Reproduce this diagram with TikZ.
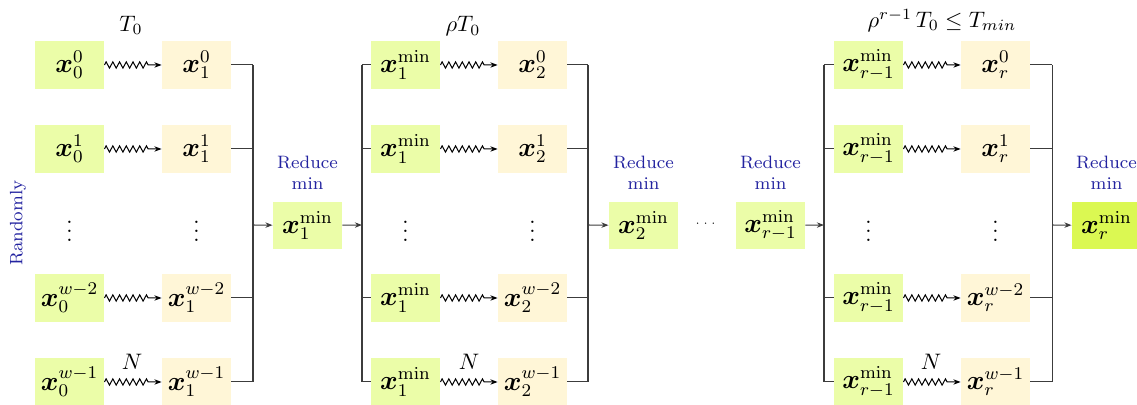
\documentclass[tikz,border=0pt]{standalone}
\usepackage{amsmath}
\usetikzlibrary{arrows.meta,decorations.pathmorphing,positioning}

\definecolor{seedgreen}{RGB}{235,253,168}
\definecolor{stepcream}{RGB}{255,246,215}
\definecolor{bestgreen}{RGB}{219,248,82}
\definecolor{reduceblue}{RGB}{35,35,160}
\definecolor{wire}{RGB}{60,60,60}

\tikzset{
  cell/.style={minimum width=30.8pt, minimum height=21.4pt, inner sep=0pt, font=\large},
  seed/.style={cell, fill=seedgreen},
  walk/.style={cell, fill=stepcream},
  best/.style={cell, fill=bestgreen},
  tip/.style={-{Stealth[length=3.2pt,width=2.4pt]}},
  anneal/.style={tip, line width=0.45pt, decorate,
    decoration={zigzag, amplitude=1.4pt, segment length=3pt, post length=4.5pt}},
  wirestyle/.style={draw=wire, line width=0.45pt},
  feed/.style={wirestyle, tip},
  bluetext/.style={font=\footnotesize, text=reduceblue, align=center, inner sep=0pt},
}

\newcommand{\bx}{\boldsymbol{x}}

\begin{document}
\begin{tikzpicture}[x=0.4464pt, y=-0.4464pt]
\useasboundingbox (0,0) rectangle (1137,405);

% ---------- stage 1 ----------
\node[seed] (a0) at (69.5,65)  {$\bx_0^0$};
\node[seed] (a1) at (69.5,149) {$\bx_0^1$};
\node       (ad) at (69.5,225) {$\vdots$};
\node[seed] (a2) at (69.5,298) {$\bx_0^{w-2}$};
\node[seed] (a3) at (69.5,382) {$\bx_0^{w-1}$};

\node[walk] (b0) at (196.5,65)  {$\bx_1^0$};
\node[walk] (b1) at (196.5,149) {$\bx_1^1$};
\node       (bd) at (196.5,225) {$\vdots$};
\node[walk] (b2) at (196.5,298) {$\bx_1^{w-2}$};
\node[walk] (b3) at (196.5,382) {$\bx_1^{w-1}$};

\foreach \i in {0,...,3} \draw[anneal] (a\i) -- (b\i);

\node[anchor=base] (t1) at (131,31.5) {$T_0$};
\node[anchor=base] (n1) at (132,370) {$N$};
\node[bluetext, rotate=90] (rand) at (18,223) {Randomly};

\coordinate (j1) at (253,225);
\foreach \i in {0,...,3} \draw[wirestyle] (b\i.east) -- (b\i.east -| j1);
\draw[wirestyle] (b0.east -| j1) -- (b3.east -| j1);

\node[seed] (m1) at (307.5,225.5) {$\bx_1^{\min}$};
\node[bluetext, above=4.8pt of m1] (l1) {Reduce\\min};
\draw[feed] (j1) -- (m1);

% ---------- stage 2 ----------
\coordinate (k1) at (362,225);
\draw[feed] (m1) -- (k1);

\node[seed] (c0) at (405.5,65)  {$\bx_1^{\min}$};
\node[seed] (c1) at (405.5,149) {$\bx_1^{\min}$};
\node       (cd) at (405.5,225) {$\vdots$};
\node[seed] (c2) at (405.5,298) {$\bx_1^{\min}$};
\node[seed] (c3) at (405.5,382) {$\bx_1^{\min}$};

\draw[wirestyle] (k1 |- c0.west) -- (k1 |- c3.west);
\foreach \i in {0,...,3} \draw[wirestyle] (k1 |- c\i.west) -- (c\i.west);

\node[walk] (d0) at (532.5,65)  {$\bx_2^0$};
\node[walk] (d1) at (532.5,149) {$\bx_2^1$};
\node       (dd) at (532.5,225) {$\vdots$};
\node[walk] (d2) at (532.5,298) {$\bx_2^{w-2}$};
\node[walk] (d3) at (532.5,382) {$\bx_2^{w-1}$};

\foreach \i in {0,...,3} \draw[anneal] (c\i) -- (d\i);

\node[anchor=base] (t2) at (463,32) {$\rho T_0$};
\node[anchor=base] (n2) at (469,370) {$N$};

\coordinate (j2) at (588,225);
\foreach \i in {0,...,3} \draw[wirestyle] (d\i.east) -- (d\i.east -| j2);
\draw[wirestyle] (d0.east -| j2) -- (d3.east -| j2);

\node[seed] (m2) at (643.5,225.5) {$\bx_2^{\min}$};
\node[bluetext, above=4.8pt of m2] (l2) {Reduce\\min};
\draw[feed] (j2) -- (m2);

\node[font=\tiny] (gap) at (707,224) {$\cdots$};

% ---------- stage r ----------
\node[seed] (m3) at (770.5,225.5) {$\bx_{r-1}^{\min}$};
\node[bluetext, above=4.8pt of m3] (l3) {Reduce\\min};

\coordinate (k3) at (824,225);
\draw[feed] (m3) -- (k3);

\node[seed] (e0) at (868.5,65)  {$\bx_{r-1}^{\min}$};
\node[seed] (e1) at (868.5,149) {$\bx_{r-1}^{\min}$};
\node       (ed) at (868.5,225) {$\vdots$};
\node[seed] (e2) at (868.5,298) {$\bx_{r-1}^{\min}$};
\node[seed] (e3) at (868.5,382) {$\bx_{r-1}^{\min}$};

\draw[wirestyle] (k3 |- e0.west) -- (k3 |- e3.west);
\foreach \i in {0,...,3} \draw[wirestyle] (k3 |- e\i.west) -- (e\i.west);

\node[walk] (f0) at (995.5,65)  {$\bx_r^0$};
\node[walk] (f1) at (995.5,149) {$\bx_r^1$};
\node       (fd) at (995.5,225) {$\vdots$};
\node[walk] (f2) at (995.5,298) {$\bx_r^{w-2}$};
\node[walk] (f3) at (995.5,382) {$\bx_r^{w-1}$};

\foreach \i in {0,...,3} \draw[anneal] (e\i) -- (f\i);

\node[anchor=base] (t3) at (942,27.5) {$\rho^{r-1}\,T_0 \leq T_{min}$};
\node[anchor=base] (n3) at (931,370) {$N$};

\coordinate (j3) at (1052,225);
\foreach \i in {0,...,3} \draw[wirestyle] (f\i.east) -- (f\i.east -| j3);
\draw[wirestyle] (f0.east -| j3) -- (f3.east -| j3);

\node[best] (m4) at (1106.5,225.5) {$\bx_r^{\min}$};
\node[bluetext, above=4.8pt of m4] (l4) {Reduce\\min};
\draw[feed] (j3) -- (m4);
\end{tikzpicture}
\end{document}
